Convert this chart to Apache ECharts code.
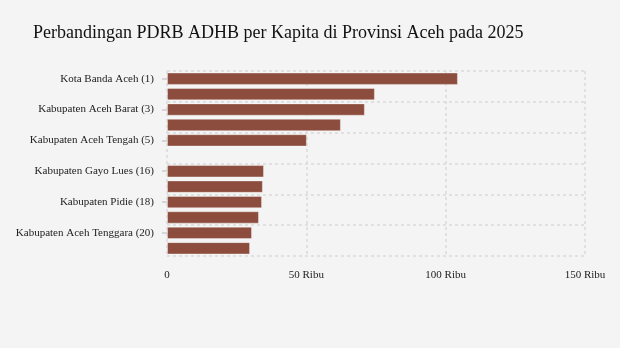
<!DOCTYPE html>
<html>
<head>
<meta charset="utf-8">
<script src="https://cdn.jsdelivr.net/npm/echarts@6/dist/echarts.min.js"></script>
<style>
  html, body { margin: 0; padding: 0; background: #f4f4f4; }
  #chart { width: 620px; height: 348px; }
</style>
</head>
<body>
<div id="chart"></div>
<script>
// Regions, ranked by GRDP per capita (top group, separator, bottom group)
const regions = [
  'Kota Banda Aceh (1)',
  'Kabupaten Nagan Raya (2)',
  'Kabupaten Aceh Barat (3)',
  'Kota Lhokseumawe (4)',
  'Kabupaten Aceh Tengah (5)',
  '...',
  'Kabupaten Gayo Lues (16)',
  'Kabupaten Aceh Jaya (17)',
  'Kabupaten Pidie (18)',
  'Kabupaten Bener Meriah (19)',
  'Kabupaten Aceh Tenggara (20)',
  'Kabupaten Aceh Utara (21)'
];
// GRDP per capita, thousand rupiah
const values = [104.4, 74.6, 71.0, 62.4, 50.2, null, 34.8, 34.4, 34.1, 33.0, 30.5, 29.8];
// x axis ticks, thousand rupiah
const xTicks = [0, 50, 100, 150];

const chart = echarts.init(document.getElementById('chart'));
const serif = '"Liberation Serif", "DejaVu Serif", serif';
const gridLine = { show: true, lineStyle: { color: '#e0e0e0', type: [3, 3], width: 2 } };

chart.setOption({
  backgroundColor: '#f4f4f4',
  animation: false,
  title: {
    text: 'Perbandingan PDRB ADHB per Kapita di Provinsi Aceh pada 2025',
    left: 28,
    top: 19,
    textStyle: { fontFamily: serif, fontSize: 18, fontWeight: 'normal', color: '#111' }
  },
  grid: { left: 167, right: 35, top: 71, bottom: 92 },
  xAxis: {
    type: 'value',
    min: xTicks[0],
    max: xTicks[xTicks.length - 1],
    interval: xTicks[1] - xTicks[0],
    axisLine: { show: false },
    axisTick: { show: false },
    axisLabel: {
      margin: 14,
      fontFamily: serif,
      fontSize: 11,
      color: '#222',
      formatter: v => v === 0 ? '0' : v + ' Ribu'
    },
    splitLine: gridLine
  },
  yAxis: {
    type: 'category',
    inverse: true,
    data: regions,
    axisLine: { show: false },
    axisTick: { show: true, alignWithLabel: true, interval: 1, length: 5, lineStyle: { color: '#d6d6d6', width: 2 } },
    axisLabel: { interval: 1, margin: 13, fontFamily: serif, fontSize: 11, color: '#222' },
    splitLine: Object.assign({ interval: 1 }, gridLine)
  },
  series: [{
    type: 'bar',
    data: values,
    barCategoryGap: '20%',
    itemStyle: { color: '#8c4d3e', borderColor: 'rgba(255,255,255,0.35)', borderWidth: 1 }
  }]
});
</script>
</body>
</html>
